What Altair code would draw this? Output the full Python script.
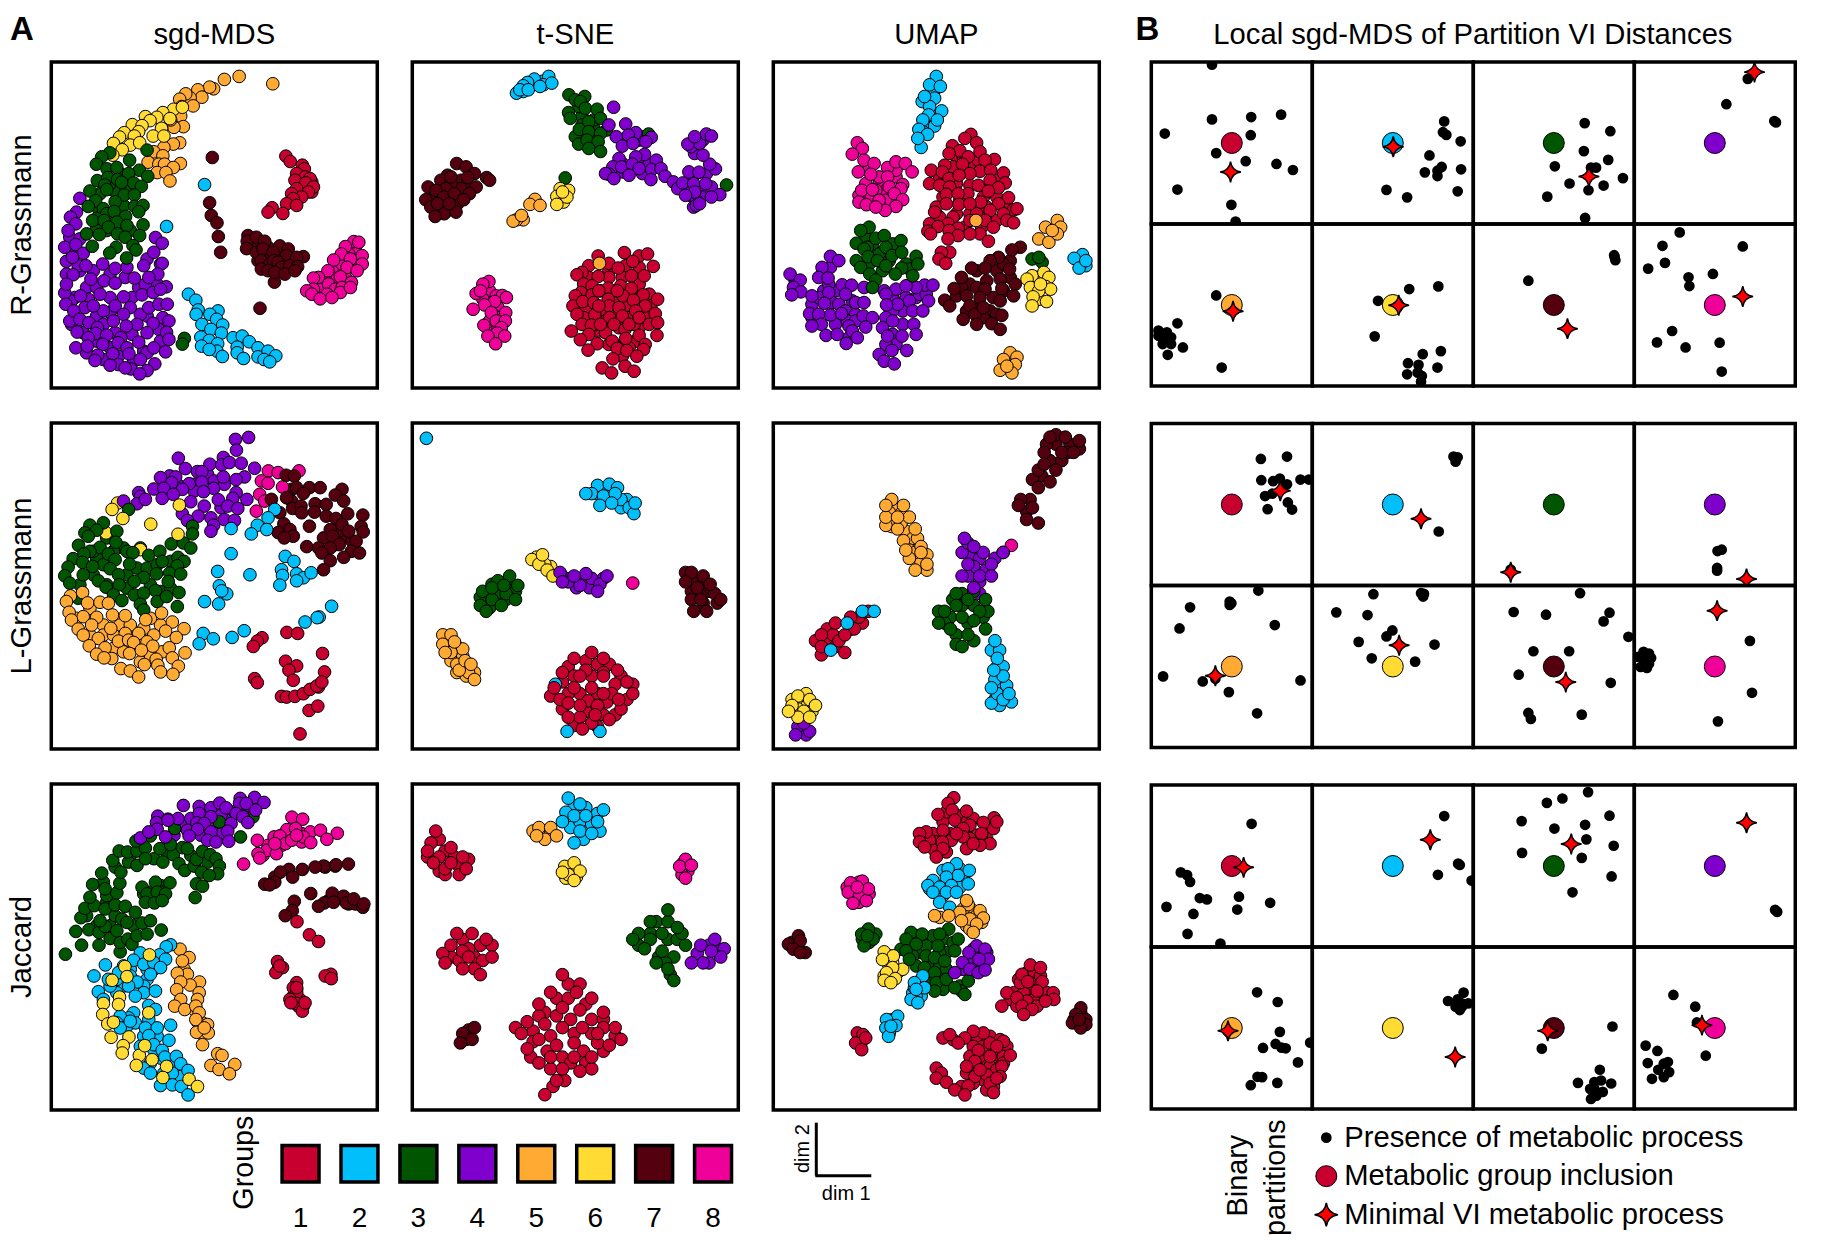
import altair as alt
import pandas as pd

GROUPS = [1, 2, 3, 4, 5, 6, 7, 8]
COLORS = ["#C8002F", "#00BFFA", "#005500", "#7F00CC", "#FFAA33", "#FFDB33", "#55000F", "#EE0099"]
FONT = "Liberation Sans"
ZX, ZY = [15, 985], [17, 990]

# ---- Panel A: values, per group, in figure units
RG_MDS = {
 5: [(574,60),(530,69),(674,82),(498,97),(486,92),(451,100),(463,122),(428,124),(415,112),(397,128),(437,148),(403,150),(400,178),(408,210),(380,212),(370,190),(397,258),(378,262),(350,272),(320,285),(347,297),(303,316),(335,322),(352,322),(399,320),(378,332),(330,347),(356,347),(368,372)],
 6: [(379,158),(405,152),(347,168),(329,182),(368,186),(295,180),(256,204),(309,192),(343,215),(285,207),(232,228),(318,238),(350,238),(275,225),(218,241),(262,238),(200,260),(250,265),(278,258),(226,279),(198,295)],
 4: [(100,424),(90,465),(72,480),(88,500),(65,520),(55,570),(88,562),(325,541),(345,558),(110,588),(320,585),(60,612),(345,618),(78,600),(118,625),(168,620),(290,625),(205,633),(240,630),(60,650),(80,652),(332,650),(133,665),(172,670),(205,677),(262,662),(305,660),(357,688),(55,706),(102,715),(160,710),(230,718),(285,712),(318,705),(340,695),(60,680),(58,740),(115,750),(82,760),(170,760),(140,745),(205,745),(250,750),(305,750),(335,740),(360,740),(230,770),(270,800),(347,780),(100,785),(127,795),(200,790),(152,810),(318,797),(238,805),(365,790),(92,823),(147,827),(180,832),(300,825),(358,824),(125,840),(222,840),(275,853),(365,845),(88,870),(122,865),(214,855),(240,870),(168,860),(320,870),(355,882),(153,892),(198,888),(145,908),(246,888),(280,905),(323,918),(214,920),(190,922),(252,933),(300,938),(278,948),(235,930)],
 3: [(189,288),(300,280),(165,300),(248,310),(149,322),(181,336),(210,332),(277,340),(245,350),(302,358),(152,371),(183,362),(212,368),(260,378),(224,376),(174,384),(283,388),(130,402),(180,398),(232,414),(262,414),(147,431),(205,434),(170,455),(125,448),(263,448),(288,445),(180,470),(202,463),(275,464),(150,484),(236,478),(138,490),(172,490),(210,495),(288,503),(240,505),(185,510),(120,530),(158,532),(212,530),(278,535),(235,540),(137,567),(208,570),(258,565),(267,578),(189,587),(239,602),(411,842),(405,859)],
 2: [(358,508),(471,383),(423,710),(445,728),(452,757),(446,770),(511,760),(487,770),(507,785),(463,800),(525,802),(490,815),(521,826),(460,838),(485,848),(556,840),(510,858),(462,865),(583,835),(604,852),(568,868),(508,880),(485,875),(630,870),(524,896),(568,885),(587,902),(630,897),(660,880),(683,894),(648,905),(665,912)],
 7: [(494,302),(486,437),(491,475),(508,497),(512,538),(519,585),(636,752),(679,674),(600,535),(598,552),(596,574),(625,540),(650,552),(625,585),(645,575),(695,566),(675,585),(720,575),(715,595),(765,598),(745,600),(640,610),(665,620),(677,610),(690,615),(700,630),(725,625),(748,628),(640,635),(660,640),(680,645),(710,650),(740,640)],
 1: [(713,298),(726,314),(762,325),(768,336),(745,350),(770,360),(785,365),(740,370),(772,378),(795,390),(745,395),(780,405),(730,410),(760,420),(735,425),(715,440),(745,445),(672,452),(660,465),(704,469)],
 8: [(915,553),(930,555),(890,568),(940,595),(878,590),(905,605),(855,608),(940,620),(895,630),(838,640),(925,640),(875,658),(810,660),(908,675),(840,680),(795,662),(795,695),(860,695),(880,690),(775,700),(835,710),(790,710),(875,705),(815,724),(850,720),(905,690)],
}
RG_MDS_FILL = {
 4: [(100,640),(140,640),(190,650),(235,660),(275,690),(120,690),(150,690),(190,720),(255,720),(85,720),(125,725),(150,775),(190,765),(300,775),(280,770),(75,800),(110,825),(170,800),(205,825),(255,830),(335,815),(150,850),(190,870),(290,880),(340,850),(120,885),(170,905),(215,895),(260,910),(300,885),(75,730),(70,790),(330,680),(340,620),(300,605),(295,680),(95,625),(70,540),(75,580),(100,545)],
 3: [(200,400),(160,410),(230,445),(155,455),(215,500),(180,520),(150,510),(250,520),(220,350),(190,380),(240,395)],
 7: [(620,560),(660,570),(690,590),(730,610),(660,600),(630,610),(700,600),(740,620)],
 8: [(920,580),(900,590),(860,630),(880,620),(850,660),(830,665),(815,695),(890,660),(920,610),(870,680)],
 1: [(760,350),(750,370),(790,375),(760,395),(745,415),(775,395),(790,405)],
}
RG_TSNE = {
 2: [(421,60),(378,68),(358,78),(345,88),(405,85),(430,80),(325,110),(335,100),(360,100),(395,90)],
 3: [(481,115),(528,120),(500,130),(515,135),(480,168),(485,185),(530,155),(565,158),(575,185),(540,195),(512,218),(593,220),(540,225),(575,230),(510,262),(535,250),(568,255),(540,275),(575,284),(470,363),(950,384),(718,232)],
 4: [(614,152),(650,202),(600,205),(680,228),(622,240),(658,235),(726,242),(710,255),(640,268),(672,260),(706,293),(630,305),(680,300),(741,310),(612,330),(638,330),(670,322),(690,335),(660,355),(600,352),(590,350),(615,365),(727,338),(755,335),(725,368),(767,358),(792,375),(805,395),(820,378),(852,380),(888,380),(838,345),(868,346),(917,336),(900,322),(930,413),(905,420),(855,405),(828,415),(852,450),(860,445),(870,440),(845,270),(870,260),(890,232),(880,295),(905,238),(835,262),(855,240)],
 7: [(147,320),(175,330),(200,350),(236,362),(245,370),(120,355),(100,370),(62,390),(130,380),(180,362),(115,395),(85,400),(205,390),(185,410),(55,428),(70,450),(108,420),(140,410),(168,428),(90,440),(110,470),(145,465),(83,478),(125,440),(130,360)],
 5: [(380,427),(365,442),(395,445),(345,488),(325,488),(315,492),(340,475)],
 6: [(455,395),(480,400),(445,418),(465,435),(445,442),(475,420),(462,405)],
 8: [(243,672),(225,680),(205,708),(218,700),(283,714),(295,720),(260,732),(230,742),(196,755),(293,765),(250,765),(265,790),(292,790),(228,803),(280,810),(268,826),(240,835),(290,835),(263,858)],
 1: [(568,596),(646,586),(690,596),(715,590),(671,612),(732,627),(600,618),(628,632),(520,645),(505,652),(568,657),(667,655),(705,655),(525,680),(550,685),(598,692),(635,685),(667,693),(517,705),(500,715),(550,712),(598,725),(642,715),(702,712),(745,725),(493,745),(522,732),(555,735),(600,745),(630,750),(673,728),(708,745),(505,770),(558,772),(602,780),(640,775),(680,760),(738,768),(520,800),(548,802),(590,825),(615,800),(648,815),(720,800),(745,795),(488,820),(540,830),(650,842),(690,833),(743,833),(515,846),(610,850),(565,858),(625,872),(708,860),(538,877),(653,878),(703,875),(683,895),(612,903),(648,925),(580,930),(608,945),(675,940),(660,800),(575,800),(570,745),(690,780),(625,700),(570,700)],
 50: [(572,618)],
}
RG_TSNE_FILL = {
 1: [(540,625),(600,640),(650,625),(690,630),(540,660),(600,660),(640,660),(690,680),(530,700),(575,700),(620,720),(660,710),(720,710),(510,730),(575,760),(650,745),(690,720),(725,745),(530,760),(620,780),(660,780),(710,770),(525,780),(570,820),(630,810),(690,810),(560,800),(600,860),(650,855),(680,850),(640,895),(660,870),(590,790),(675,800)],
 4: [(640,320),(700,320),(660,340),(720,320),(700,350),(620,345),(850,360),(880,400),(850,420),(830,400),(890,350),(905,390),(875,420),(860,430),(860,260),(880,250),(855,290),(650,250),(690,250),(700,240),(810,385),(640,345)],
 7: [(110,380),(145,395),(100,400),(80,420),(130,430),(150,440),(100,450),(120,460),(180,385),(160,370),(120,400),(75,430),(160,395)],
 3: [(520,180),(520,240),(555,215),(555,190),(520,205),(555,240),(510,150),(500,240)],
 8: [(245,700),(265,715),(250,745),(270,750),(260,775),(245,790),(255,815),(270,810),(225,725)],
 2: [(370,80),(385,80),(345,105),(400,75)],
}
RG_UMAP = {
 2: [(500,60),(480,85),(512,90),(495,125),(458,135),(516,163),(480,150),(477,175),(460,190),(495,208),(448,218),(474,233),(455,272),(445,245),(503,190),(465,120)],
 1: [(603,233),(585,245),(620,258),(548,267),(570,282),(630,285),(538,290),(595,300),(673,308),(645,310),(525,325),(578,322),(485,340),(518,345),(630,343),(600,350),(700,348),(662,340),(480,380),(538,365),(568,355),(660,370),(705,378),(510,385),(540,390),(625,385),(685,392),(655,402),(530,412),(594,410),(565,410),(715,422),(500,450),(530,440),(567,442),(632,435),(600,440),(685,440),(730,458),(495,465),(660,460),(700,470),(740,455),(480,500),(535,500),(505,508),(600,490),(645,490),(710,490),(730,497),(670,510),(475,522),(565,513),(538,520),(630,530),(600,530),(655,552),(565,535),(483,530),(535,545),(540,585),(515,585),(508,605),(528,618)],
 50: [(618,490)],
 8: [(265,258),(280,275),(250,292),(285,310),(315,320),(268,345),(305,352),(355,332),(380,315),(408,320),(428,345),(355,360),(400,383),(278,400),(310,398),(360,390),(395,395),(375,410),(270,435),(292,443),(330,430),(400,428),(380,448),(348,460),(320,450)],
 4: [(185,597),(210,610),(160,630),(65,650),(95,668),(150,660),(178,662),(75,690),(97,703),(220,682),(248,683),(70,712),(130,715),(180,705),(230,710),(285,690),(465,683),(490,683),(440,690),(380,695),(410,685),(350,710),(260,735),(167,737),(285,735),(385,740),(352,742),(477,730),(123,768),(185,772),(218,768),(150,770),(283,775),(310,780),(430,760),(460,760),(158,800),(130,805),(240,805),(290,808),(370,790),(340,810),(433,800),(172,833),(205,830),(250,820),(265,840),(355,835),(398,835),(440,830),(232,857),(412,878),(368,878),(330,890),(345,910),(375,918)],
 3: [(300,510),(275,520),(262,558),(320,543),(345,535),(395,550),(285,575),(350,570),(368,595),(397,585),(262,610),(297,598),(325,610),(350,625),(440,597),(445,620),(275,630),(302,650),(397,632),(378,650),(430,655),(320,668),(310,690),(785,605),(815,615),(805,600)],
 7: [(750,570),(725,578),(685,600),(660,610),(718,635),(645,632),(605,632),(575,660),(690,665),(735,680),(645,695),(695,693),(553,693),(525,728),(590,715),(630,720),(730,715),(540,745),(600,745),(690,730),(580,785),(615,770),(695,773),(620,800),(665,798),(690,815),(640,750)],
 6: [(785,655),(820,645),(770,665),(835,660),(825,687),(780,690),(840,695),(805,700),(788,718),(828,732),(785,745),(810,680)],
 5: [(860,490),(825,510),(870,510),(805,545),(835,555),(860,530),(845,520),(720,885),(740,898),(700,905),(735,920),(690,937),(725,945),(710,925)],
 20: [(935,592),(910,603),(945,625),(925,632),(945,610)],
}
RG_UMAP_FILL = {
 1: [(560,300),(600,320),(650,330),(680,370),(560,380),(600,385),(640,420),(680,420),(520,420),(560,470),(600,470),(640,460),(680,490),(510,480),(580,300),(625,310),(550,330),(510,365),(650,450),(700,440),(585,510),(635,510),(550,480),(620,470),(570,430)],
 4: [(130,740),(165,700),(200,700),(190,735),(150,720),(210,740),(250,730),(230,760),(260,770),(200,800),(235,790),(260,790),(130,780),(240,840),(370,720),(410,720),(440,720),(400,760),(370,760),(350,780),(400,800),(370,830),(380,860),(350,860),(420,730),(450,710),(470,710),(185,630),(180,680),(80,670),(345,700)],
 3: [(290,540),(310,565),(330,590),(370,560),(300,620),(340,640),(410,620),(420,635),(295,570),(360,610)],
 8: [(300,330),(290,380),(330,380),(350,400),(300,420),(350,430),(380,360),(380,340),(330,360),(320,400),(270,415)],
 7: [(620,640),(680,640),(720,660),(600,680),(650,670),(620,690),(670,720),(700,700),(620,750),(590,760),(660,760),(560,715),(640,780),(680,770),(575,690),(720,610),(700,620)],
 2: [(495,100),(490,180),(470,210),(460,225)],
 6: [(800,660),(805,725),(810,660),(795,680)],
}
LG_MDS = {
 1: [(755,945),(782,875),(808,862),(810,805),(828,760),(822,705),(712,728),(745,742),(722,755),(735,785),(620,780),(628,792),(642,658),(628,668),(616,684),(716,642),(748,645),(700,833),(715,835),(740,833),(765,825),(785,812),(805,802),(820,790)],
 8: [(661,160),(690,165),(752,160),(640,190),(660,197),(703,208),(635,230),(650,250),(625,280)],
 7: [(714,173),(738,175),(745,210),(783,210),(815,210),(880,215),(765,227),(860,232),(715,240),(670,245),(885,250),(800,258),(833,260),(733,272),(758,265),(798,283),(695,285),(897,288),(942,292),(760,285),(833,295),(862,302),(880,320),(707,318),(783,325),(937,326),(725,335),(845,335),(943,342),(690,344),(900,340),(735,355),(708,360),(825,360),(852,355),(922,370),(775,386),(872,380),(810,390),(845,390),(908,400),(932,405),(820,405),(885,418),(845,428),(825,455)],
 6: [(212,256),(178,345),(280,395)],
 4: [(602,60),(563,66),(566,98),(393,122),(527,120),(487,140),(522,142),(545,135),(580,137),(620,152),(414,153),(450,162),(463,162),(367,175),(340,180),(385,178),(527,178),(590,178),(565,186),(425,198),(463,193),(373,195),(405,215),(320,214),(350,212),(498,212),(468,222),(565,225),(275,225),(280,236),(345,242),(378,230),(230,250),(270,258),(295,245),(430,252),(512,246),(597,245),(555,242),(540,265),(570,272),(405,288),(452,295),(490,300),(530,305),(560,308),(420,308),(498,322),(490,340)],
 3: [(245,275),(170,315),(130,322),(435,325),(435,348),(210,340),(150,337),(115,345),(125,355),(372,378),(408,375),(430,390),(207,373),(96,382),(160,388),(130,400),(185,408),(240,400),(258,404),(305,412),(338,400),(392,418),(410,430),(80,422),(112,408),(205,425),(345,430),(108,433),(138,445),(248,438),(390,443),(65,447),(190,452),(55,473),(215,470),(290,478),(328,467),(367,465),(400,468),(110,470),(155,488),(70,495),(217,500),(262,490),(363,490),(178,507),(325,517),(395,523),(200,530),(262,530),(290,525),(225,547),(280,558),(330,550),(358,535),(390,565),(290,575),(95,540)],
 60: [(196,275),(228,302),(396,262),(311,319),(392,349)],
 5: [(108,523),(72,533),(60,550),(123,554),(160,552),(185,555),(68,582),(110,595),(150,597),(197,590),(75,605),(235,592),(343,584),(296,604),(375,611),(135,620),(410,631),(95,632),(192,630),(110,650),(235,645),(355,638),(275,645),(320,650),(387,657),(155,660),(215,668),(245,665),(300,670),(260,672),(128,682),(175,688),(317,683),(366,688),(413,703),(150,707),(195,720),(248,705),(283,695),(327,722),(375,718),(222,750),(250,757),(292,738),(332,740),(393,743),(275,775),(340,760),(377,767),(172,718)],
 2: [(550,332),(680,275),(660,300),(628,322),(656,335),(610,348),(550,407),(711,415),(737,430),(510,460),(606,470),(700,455),(745,467),(703,472),(765,479),(788,464),(745,488),(695,501),(515,503),(537,527),(522,518),(471,550),(513,557),(849,564),(812,596),(806,598),(770,611),(589,637),(467,645),(497,661),(553,657),(455,676)],
}
LG_MDS_FILL = {
 3: [(180,360),(230,390),(150,420),(140,400),(170,440),(240,470),(270,450),(300,450),(330,440),(370,430),(140,470),(180,500),(240,510),(310,500),(340,520),(370,510),(100,500),(200,400),(280,390)],
 5: [(130,570),(90,600),(170,620),(220,620),(290,630),(340,620),(130,650),(170,650),(200,690),(230,700),(280,730),(310,710),(345,700),(250,620),(310,600),(200,650)],
 4: [(480,170),(440,200),(500,190),(530,200),(520,270),(470,265),(440,220),(390,200)],
 7: [(730,215),(850,345),(890,355),(870,340),(840,360),(910,370),(860,380),(730,250),(710,340)],
}
LG_TSNE = {
 2: [(364,373),(510,413),(520,412),(527,415),(505,420),(515,422),(530,425),(537,432),(541,437),(525,420),(542,428),(500,420),(512,430),(522,428)],
 6: [(454,476),(460,480),(467,485),(472,490),(463,472)],
 4: [(478,487),(485,495),(495,498),(505,492),(512,497),(518,490),(500,488),(490,490),(480,495),(510,503)],
 8: [(540,496)],
 7: [(590,487),(600,490),(585,495),(595,500),(610,505),(615,510),(590,510),(603,520),(598,510),(606,497),(592,520)],
 3: [(425,494),(435,490),(412,503),(420,510),(432,505),(442,498),(428,515),(410,515),(440,510),(420,500),(415,520),(430,498)],
 5: [(385,540),(378,548),(395,552),(385,555),(390,565),(400,572),(405,578),(392,570),(380,555),(397,562),(388,546),(402,565)],
 20: [(474,582),(484,622),(512,622)],
 1: [(505,555),(490,560),(515,560),(527,570),(480,572),(500,570),(515,575),(535,580),(473,585),(490,585),(505,585),(522,590),(540,590),(478,595),(495,600),(510,600),(530,603),(485,610),(505,615),(520,612),(497,620),(515,590),(495,575),(528,595),(485,598),(508,608)],
}
LG_TSNE_FILL = {
 2: [(510,420),(525,425),(518,415),(530,432),(535,425)],
 6: [(458,474),(470,482),(465,480)],
 4: [(487,492),(497,492),(507,495),(515,492),(480,490),(492,500),(503,500)],
 7: [(587,490),(592,493),(600,497),(605,503),(597,505),(590,503),(600,513),(612,513),(585,487)],
 3: [(420,497),(427,500),(435,497),(415,510),(425,507),(435,503),(418,517),(410,508),(440,503),(432,510)],
 5: [(383,545),(390,550),(385,562),(395,558),(390,572),(400,568),(378,540),(398,575),(405,572)],
 1: [(500,562),(510,565),(485,567),(520,565),(530,575),(490,575),(505,575),(480,580),(495,590),(510,590),(525,582),(535,595),(485,590),(500,605),(515,608),(525,608),(490,617),(510,618),(480,603),(470,592),(540,582),(502,596),(518,597),(495,610),(515,572)],
}
LG_UMAP = {
 7: [(895,372),(908,372),(920,375),(890,385),(905,385),(885,400),(895,410),(900,400),(885,415),(915,385),(890,395),(870,425),(880,432),(875,442),(885,445),(868,430)],
 5: [(760,425),(770,430),(755,440),(775,440),(765,450),(780,450),(770,460),(785,465),(775,475),(790,480),(780,485),(765,440),(785,470),(755,430),(772,468)],
 8: [(862,464),(855,470)],
 4: [(822,458),(830,465),(825,480),(845,480),(855,470),(835,490),(820,490),(830,500),(845,490),(680,618),(690,622),(678,625),(685,615)],
 3: [(815,505),(825,510),(805,520),(820,525),(835,520),(810,535),(825,540),(840,535),(820,550),(800,530),(830,528),(815,515)],
 2: [(848,545),(850,560),(855,575),(850,590),(855,595),(860,590),(847,570),(845,585)],
 1: [(740,520),(725,525),(712,530),(700,540),(715,545),(728,535),(700,550),(720,540)],
 20: [(735,520),(745,520),(708,553),(722,530)],
 6: [(680,592),(690,595),(675,600),(685,605),(695,600),(680,610),(690,610),(672,605)],
}
LG_UMAP_FILL = {
 7: [(900,378),(912,378),(895,392),(905,392),(888,405),(880,408),(875,435),(878,425),(892,378),(920,382),(900,370),(910,385)],
 5: [(762,432),(768,437),(760,448),(772,452),(768,445),(778,458),(782,458),(775,468),(785,478),(790,472),(755,447),(780,470),(790,485),(758,436)],
 4: [(827,472),(835,475),(840,485),(830,482),(825,490),(835,495),(820,470),(838,470),(848,475),(825,462),(835,505),(683,620),(687,625)],
 3: [(812,510),(820,505),(830,515),(810,525),(825,530),(815,540),(830,545),(838,525),(805,530),(842,520),(820,515),(815,548),(800,520),(830,503),(840,510)],
 2: [(845,553),(852,553),(850,567),(852,583),(858,583),(848,595),(862,597),(852,600),(848,578),(855,567),(845,598)],
 1: [(735,530),(725,535),(705,545),(712,550),(732,525),(705,535),(695,545),(710,540),(720,555),(700,557)],
 6: [(683,597),(688,600),(680,603),(692,605),(675,595),(687,590)],
}
JC_MDS = {
 3: [(57,525),(105,498),(88,457),(157,498),(220,518),(190,478),(220,490),(243,480),(255,495),(127,452),(157,460),(270,470),(300,465),(342,453),(103,416),(115,388),(143,380),(175,390),(205,378),(235,382),(265,400),(225,420),(175,442),(160,425),(240,430),(285,432),(310,425),(210,455),(130,355),(180,350),(210,342),(138,317),(175,330),(219,313),(165,283),(205,265),(222,280),(198,245),(245,250),(270,260),(217,217),(242,220),(270,217),(295,208),(267,187),(295,240),(310,172),(338,210),(347,250),(378,228),(370,198),(382,150),(405,207),(395,255),(420,210),(412,275),(440,262),(447,242),(465,218),(488,228),(505,240),(515,262),(462,280),(510,285),(485,290),(447,315),(465,322),(443,356),(578,175),(515,130),(615,115),(285,325),(325,310),(368,312),(300,345),(330,340),(355,345),(295,370),(322,372),(345,365)],
 4: [(408,81),(577,60),(620,57),(648,72),(575,75),(595,75),(455,84),(490,88),(516,74),(535,88),(332,113),(362,122),(392,120),(455,105),(490,115),(565,105),(623,95),(585,115),(328,132),(362,125),(448,133),(470,135),(550,135),(600,132),(330,152),(280,178),(305,160),(355,175),(420,155),(450,152),(490,160),(425,172),(540,158),(480,185),(505,190),(543,188)],
 8: [(731,116),(763,122),(716,153),(742,150),(786,160),(816,155),(866,164),(628,185),(678,175),(695,172),(765,175),(787,192),(835,182),(712,195),(657,215),(630,225),(685,225),(635,238),(587,256),(730,185),(680,195),(745,170)],
 7: [(899,256),(862,258),(825,262),(800,265),(762,272),(722,272),(697,280),(733,295),(680,310),(650,316),(665,318),(787,344),(851,343),(885,352),(827,372),(810,382),(855,370),(893,372),(915,360),(942,385),(945,375),(738,367),(732,395),(711,410)],
 1: [(746,428),(783,467),(810,487),(688,547),(703,565),(683,580),(695,560),(847,585),(830,590),(848,598),(745,610),(735,625),(745,640),(725,660),(745,672),(762,695),(770,670),(728,670),(745,625)],
 5: [(398,510),(425,535),(405,545),(420,585),(390,582),(456,608),(428,617),(400,608),(388,631),(455,640),(400,660),(382,680),(412,690),(450,660),(445,680),(455,700),(450,727),(480,735),(482,760),(447,758),(465,795),(510,822),(523,827),(490,857),(561,854),(514,869),(545,882),(445,720),(470,745)],
 2: [(370,497),(357,503),(280,521),(337,527),(260,543),(290,555),(320,550),(355,540),(176,557),(215,580),(340,565),(142,590),(310,585),(270,608),(185,600),(245,620),(155,637),(290,640),(325,635),(265,650),(170,660),(305,678),(325,690),(245,715),(220,710),(210,730),(305,720),(370,737),(265,730),(295,745),(330,745),(305,768),(365,782),(220,745),(320,795),(280,800),(345,812),(353,832),(387,830),(400,852),(290,865),(310,880),(422,872),(375,880),(340,917),(375,915),(402,920),(422,945),(250,725)],
 6: [(307,527),(234,562),(240,592),(196,603),(218,653),(170,672),(215,675),(168,705),(183,733),(200,728),(193,773),(246,772),(229,798),(226,820),(277,827),(293,798),(268,857),(315,840),(358,860),(347,893),(425,898),(450,920),(305,700)],
}
JC_MDS_FILL = {
 3: [(150,440),(120,410),(190,440),(260,440),(205,410),(180,370),(170,310),(250,230),(320,240),(360,225),(430,230),(480,250),(310,340),(340,320),(320,355),(290,345),(345,340)],
 2: [(230,620),(210,600),(250,570),(300,600),(300,570),(210,640),(250,590),(230,560),(290,620),(320,570),(260,700),(240,740),(290,770),(330,770),(340,835),(380,850),(350,880),(400,890),(320,810),(310,850),(190,620)],
 4: [(500,130),(430,120),(540,120),(560,100),(600,100),(400,140),(470,110),(520,110),(520,165),(380,170),(460,170),(600,80)],
 8: [(700,170),(720,180),(760,165),(660,200),(645,230),(700,200),(760,190)],
 7: [(830,265),(860,262),(880,355),(900,375),(920,375),(840,365),(680,295)],
 5: [(410,570),(440,690),(465,730),(475,745),(460,760)],
 1: [(745,630),(735,650),(755,660),(740,650),(750,680),(765,680),(845,595),(690,570)],
}
JC_TSNE = {
 2: [(485,680),(495,685),(490,695),(500,695),(480,700),(510,700),(495,708),(505,710),(490,718),(515,690)],
 5: [(460,705),(470,705),(465,715),(475,712),(458,712)],
 6: [(482,738),(490,735),(495,742),(485,745),(490,750),(480,743)],
 1: [(372,708),(365,725),(375,730),(385,722),(395,730),(380,740),(392,745),(370,735),(398,740),(385,735),(390,795),(403,795),(415,800),(395,810),(380,820),(400,815),(420,815),(395,825),(410,830),(385,805),(480,830),(470,845),(492,845),(505,850),(460,855),(480,858),(495,860),(515,862),(450,870),(465,872),(480,875),(497,875),(515,875),(525,875),(445,880),(460,885),(475,890),(490,888),(510,888),(520,890),(450,893),(470,900),(490,900),(505,900),(460,905),(480,910),(495,912),(475,920),(465,932),(510,880)],
 8: [(585,732),(580,738),(590,737),(585,748)],
 7: [(405,875),(395,880),(403,885),(393,888)],
 3: [(570,775),(555,785),(545,795),(565,795),(578,790),(550,808),(565,810),(585,805),(570,825),(575,835),(560,820),(540,800)],
 4: [(610,800),(598,805),(615,815),(600,820),(590,820),(607,810)],
}
JC_TSNE_FILL = {
 2: [(490,688),(500,688),(487,705),(500,703),(510,693),(495,700),(505,702),(483,692),(512,708),(498,715)],
 5: [(463,710),(470,710),(455,708)],
 6: [(487,740),(492,747),(483,748),(488,742)],
 1: [(375,715),(380,725),(390,735),(368,718),(375,742),(388,730),(380,745),(365,730),(392,738),(400,732),(395,800),(410,805),(405,815),(385,815),(400,808),(392,818),(412,818),(405,825),(378,812),(420,805),(485,838),(475,850),(500,855),(465,862),(487,868),(505,868),(455,878),(470,882),(505,880),(525,882),(455,887),(467,895),(480,900),(498,895),(515,895),(453,900),(470,910),(487,905),(500,905),(482,920),(515,868),(475,865),(490,880),(440,875),(460,865),(530,885),(472,925),(505,910),(485,850),(495,838)],
 7: [(400,877),(398,885)],
 3: [(560,785),(570,785),(555,795),(570,800),(555,800),(575,815),(562,815),(578,800),(568,820),(582,795),(545,805),(572,830)],
 4: [(605,805),(612,808),(595,812),(605,820),(618,808)],
 8: [(583,735),(587,742),(582,745)],
}
JC_UMAP = {
 1: [(552,58),(535,75),(547,95),(505,108),(590,98),(672,118),(555,125),(600,140),(640,132),(680,130),(520,155),(470,160),(450,165),(580,150),(635,165),(518,190),(580,175),(450,190),(465,205),(520,210),(660,195),(590,210),(630,200),(500,235),(610,195),(560,165),(282,765),(260,790),(278,810),(290,775),(780,557),(810,565),(755,585),(772,607),(815,607),(710,640),(800,635),(740,655),(848,640),(850,660),(695,680),(825,665),(755,680),(785,690),(760,705),(640,760),(610,755),(540,765),(585,775),(565,790),(700,785),(625,812),(680,800),(720,827),(660,830),(615,845),(695,860),(590,860),(650,885),(615,890),(690,890),(500,865),(515,880),(500,895),(530,907),(660,910),(680,895),(595,918),(555,930),(585,945),(670,938),(630,870)],
 2: [(560,255),(535,270),(598,275),(565,290),(490,305),(530,295),(595,315),(475,320),(510,325),(545,320),(490,340),(530,340),(560,340),(510,370),(540,385),(385,710),(352,720),(380,738),(350,745),(358,770),(365,740)],
 5: [(595,377),(570,400),(495,410),(537,410),(630,395),(600,420),(640,417),(620,435),(575,425),(610,460),(590,365)],
 8: [(280,307),(245,312),(238,340),(272,350),(292,365),(252,373),(298,330),(265,325)],
 7: [(90,470),(60,495),(95,485),(110,520),(75,510),(95,520),(930,685),(915,705),(905,730),(945,735),(930,745),(925,720)],
 6: [(345,518),(372,530),(340,541),(400,570),(370,565),(352,580),(378,598),(345,603),(365,610)],
 3: [(298,450),(278,465),(312,480),(285,500),(295,470),(425,460),(458,465),(537,450),(410,480),(510,465),(565,480),(440,495),(505,500),(555,515),(410,515),(470,530),(495,535),(420,540),(525,545),(465,565),(495,580),(500,610),(530,600),(555,625),(595,605),(585,645),(495,635)],
 4: [(620,500),(645,510),(597,520),(655,540),(578,550),(627,540),(555,580),(600,570),(625,580),(645,572)],
 20: [(460,590),(435,610),(465,625),(425,660),(445,670),(440,630)],
}
JC_UMAP_FILL = {
 1: [(520,130),(575,125),(610,120),(650,150),(540,165),(490,165),(620,170),(600,180),(500,190),(480,185),(545,185),(650,180),(560,110),(530,100),(670,150),(640,190),(530,220),(495,215),(770,580),(790,600),(780,630),(730,640),(820,640),(760,640),(720,660),(790,660),(830,640),(770,665),(800,680),(740,680),(745,600),(790,575),(750,610),(810,590),(620,780),(660,770),(690,780),(640,800),(670,830),(710,800),(640,850),(670,860),(630,830),(650,810),(700,830),(610,800),(600,830),(600,870),(620,870),(660,860),(680,870),(640,900),(670,920),(610,910),(575,920),(550,780),(520,775),(510,890),(660,790),(700,850),(650,930),(590,880),(620,860),(270,785),(270,770),(275,795),(265,760)],
 2: [(520,275),(570,270),(540,300),(500,320),(550,310),(580,300),(520,350),(570,325),(480,330),(555,265),(370,720),(365,725),(360,760),(450,605),(445,640),(430,640),(455,650),(440,650),(435,625)],
 5: [(590,400),(610,395),(620,410),(590,440),(600,450),(510,415),(580,390),(635,430)],
 8: [(260,340),(280,350),(255,330),(285,340),(270,370),(235,325),(300,345),(270,310)],
 3: [(300,465),(280,480),(300,490),(320,465),(440,470),(480,490),(520,480),(450,520),(490,470),(530,520),(430,530),(550,490),(470,500),(510,520),(480,550),(510,560),(530,570),(440,560),(500,590),(520,630),(570,620),(575,635),(395,510),(490,610),(470,580)],
 4: [(610,520),(640,530),(600,550),(625,560),(580,570),(650,520),(610,510)],
 7: [(70,490),(85,500),(90,510),(920,720),(930,725),(910,720),(930,700),(945,720),(930,730)],
 6: [(360,530),(355,550),(370,550),(385,580),(360,600),(380,575),(345,590)],
}

# ---- Panel B: black dots and the star per sub-panel, row by row
XL = [18, 400, 782, 1165, 1548]
YL = [22, 502, 985]
B_ROWS = [
 [
  ([(162,30),(162,192),(255,185),(326,178),(50,234),(254,239),(172,292),(242,316),(315,324),(354,342),(80,400),(208,445),(218,495)], (206,348)),
  ([(713,198),(710,230),(718,238),(752,257),(678,299),(707,333),(697,344),(667,349),(753,340),(697,360),(576,401),(625,423),(745,405)], (592,273)),
  ([(1047,203),(1108,227),(1045,286),(1103,312),(976,331),(1062,335),(1074,335),(1138,366),(1011,382),(1092,388),(1056,402),(958,421),(1048,484)], (1057,361)),
  ([(1435,72),(1384,147),(1498,197),(1502,201)], (1451,52)),
  ([(172,715),(80,798),(35,820),(35,835),(55,825),(45,845),(65,840),(45,860),(65,860),(93,870),(57,892),(185,930)], (212,762)),
  ([(630,696),(699,688),(556,731),(548,837),(662,890),(705,881),(627,917),(652,922),(697,930),(625,950),(650,945),(660,955),(658,972)], (605,744)),
  ([(1117,595),(1118,600),(1120,610),(913,671)], (1006,814)),
  ([(1273,527),(1232,567),(1423,569),(1238,618),(1198,635),(1294,661),(1352,651),(1296,687),(1255,821),(1219,855),(1287,870),(1368,856),(1373,942)], (1423,718)),
 ],
 [
  ([(278,127),(340,120),(279,190),(307,193),(323,185),(340,202),(372,188),(392,188),(288,237),(305,230),(342,256),(294,276),(352,277)], (324,221)),
  ([(735,120),(745,122),(740,135),(700,342)], (658,304)),
  ([(871,455)], (871,463)),
  ([(1373,396),(1363,400),(1362,450),(1362,458)], (1432,483)),
  ([(272,517),(110,567),(204,550),(208,555),(204,560),(85,630),(311,620),(46,773),(140,788),(170,780),(372,785),(202,820),(269,883)], (170,771)),
  ([(545,528),(658,525),(665,527),(663,535),(457,582),(531,590),(590,636),(576,654),(510,670),(690,678),(541,719),(644,729)], (606,680)),
  ([(1036,525),(878,581),(955,589),(1106,583),(1092,609),(1151,655),(925,698),(1010,698),(890,768),(1109,792),(913,882),(919,900),(1040,887)], (1002,790)),
  ([(1187,700),(1200,705),(1205,718),(1185,720),(1200,735),(1180,745),(1195,748),(1175,715),(1440,667),(1445,822),(1364,907)], (1362,577)),
 ],
 [
  ([(256,137),(88,281),(103,289),(110,309),(133,357),(150,361),(226,353),(300,371),(54,383),(222,391),(118,404),(104,463),(182,492)], (237,266)),
  ([(713,114),(746,255),(750,259),(698,288),(778,305)], (680,184)),
  ([(1055,43),(994,62),(957,75),(1106,113),(897,129),(1048,140),(975,151),(1051,183),(1116,202),(898,223),(1040,238),(1111,293),(1018,340)], (1015,197)),
  ([(1500,392),(1505,398)], (1432,134)),
  ([(269,637),(318,666),(323,755),(313,791),(327,802),(337,804),(283,803),(395,787),(366,846),(270,889),(281,890),(254,914),(317,907)], (200,752)),
  ([(759,638),(722,663),(745,658),(740,680),(755,670),(770,670),(750,690),(755,680)], (739,830)),
  ([(1113,739),(945,805),(1083,868),(1031,907),(1110,909),(1070,905),(1086,900),(1060,925),(1090,934),(1075,945),(1062,955),(1070,925)], (959,752)),
  ([(1258,645),(1310,680),(1314,727),(1192,796),(1220,812),(1335,826),(1197,848),(1245,845),(1235,850),(1222,868),(1248,875),(1235,890),(1207,895)], (1326,735)),
 ],
]

COLUMN_TITLES = ["sgd-MDS", "t-SNE", "UMAP"]
ROW_TITLES = ["R-Grassmann", "L-Grassmann", "Jaccard"]
B_TITLE = "Local sgd-MDS of Partition VI Distances"
LEGEND_LABELS = ["Presence of metabolic process", "Metabolic group inclusion", "Minimal VI metabolic process"]

W, H = 326, 326
SW, SH = 161, 162
STAR = "M0,-1 Q0.12,-0.12 1,0 Q0.12,0.12 0,1 Q-0.12,0.12 -1,0 Q-0.12,-0.12 0,-1 Z"
FRAME = alt.ViewBackground(stroke="black", strokeWidth=3.5)
NOFRAME = alt.ViewBackground(stroke=None)
color_scale = alt.Scale(domain=GROUPS, range=COLORS)
LX, LY = 0, -1.75


def label(text, x, y, size=29.2, angle=0, weight="normal", align="center"):
    return alt.Chart(pd.DataFrame({"t": [text]})).mark_text(
        font=FONT, fontSize=size, angle=angle, fontWeight=weight, align=align,
        baseline="middle", color="black",
    ).encode(x=alt.value(x), y=alt.value(y), text="t:N")


def panel(groups, fill, xdom, ydom, extras=()):
    rows = []
    for part in (fill, groups):
        for g, pts in part.items():
            g = g if g <= 8 else (g // 10)
            rows += [{"x": p[0], "y": p[1], "g": g} for p in pts]
    pts = alt.Chart(pd.DataFrame(rows)).mark_circle(
        size=160, stroke="black", strokeWidth=1, opacity=1, clip=True
    ).encode(
        x=alt.X("x:Q", axis=None, scale=alt.Scale(domain=xdom, nice=False, zero=False)),
        y=alt.Y("y:Q", axis=None, scale=alt.Scale(domain=ydom, nice=False, zero=False)),
        color=alt.Color("g:N", scale=color_scale, legend=None),
    )
    return alt.layer(pts, *extras).properties(width=W, height=H, view=FRAME)


def shr(x0, y0):
    return [x0, x0 + 278], [y0 + 277, y0]


ZYR = [ZY[1], ZY[0]]
cells_a = [
    panel(RG_MDS, RG_MDS_FILL, ZX, ZYR, [label(COLUMN_TITLES[0], W / 2, -27),
                                         label(ROW_TITLES[0], -29.4, H / 2, angle=270),
                                         label("A", -29.4, -31.6, size=33, weight="bold")]),
    panel(RG_TSNE, RG_TSNE_FILL, ZX, ZYR, [label(COLUMN_TITLES[1], W / 2, -27)]),
    panel(RG_UMAP, RG_UMAP_FILL, ZX, ZYR, [label(COLUMN_TITLES[2], W / 2, -27)]),
    panel(LG_MDS, LG_MDS_FILL, ZX, ZYR, [label(ROW_TITLES[1], -29.4, H / 2, angle=270)]),
    panel(LG_TSNE, LG_TSNE_FILL, *shr(352, 360)),
    panel(LG_UMAP, LG_UMAP_FILL, *shr(659, 360)),
    panel(JC_MDS, JC_MDS_FILL, ZX, ZYR, [label(ROW_TITLES[2], -29.4, H / 2, angle=270)]),
    panel(JC_TSNE, JC_TSNE_FILL, *shr(352, 668)),
    panel(JC_UMAP, JC_UMAP_FILL, ZX, ZYR),
]
grid_a = alt.concat(*cells_a, columns=3, spacing={"row": 35, "column": 35}, bounds="flush")


def sub_panel(dots, star, i, j, g, extras=()):
    xd = [XL[i], XL[i + 1]]
    yd = [YL[j + 1], YL[j]]
    x = alt.X("x:Q", axis=None, scale=alt.Scale(domain=xd, nice=False, zero=False))
    y = alt.Y("y:Q", axis=None, scale=alt.Scale(domain=yd, nice=False, zero=False))
    df = pd.DataFrame({"x": [p[0] for p in dots], "y": [p[1] for p in dots]})
    dot_layer = alt.Chart(df).mark_circle(size=115, color="black", opacity=1, clip=True).encode(x=x, y=y)
    centre = alt.Chart(pd.DataFrame({"x": [(xd[0] + xd[1]) / 2], "y": [(yd[0] + yd[1]) / 2], "g": [g]})).mark_circle(
        size=440, stroke="black", strokeWidth=1, opacity=1, clip=True
    ).encode(x=x, y=y, color=alt.Color("g:N", scale=color_scale, legend=None))
    st = alt.Chart(pd.DataFrame({"x": [star[0]], "y": [star[1]]})).mark_point(
        shape=STAR, size=430, fill="#FF0000", filled=True, stroke="black", strokeWidth=1.5, opacity=1, clip=True
    ).encode(x=x, y=y)
    return alt.layer(centre, dot_layer, st, *extras).properties(width=SW, height=SH, view=FRAME)


# an unseen rule keeps the left edge of every row of panel B level
edge = alt.Chart(pd.DataFrame({"a": [0]})).mark_rule(opacity=0).encode(x=alt.value(-20), y=alt.value(0), y2=alt.value(10))

b_rows = []
for r, row in enumerate(B_ROWS):
    cells = []
    for k, (dots, star) in enumerate(row):
        i, j = k % 4, k // 4
        extras = []
        if k == 0:
            extras = [edge]
            if r == 0:
                extras += [label(B_TITLE, 321.6, -27), label("B", -3.8, -31.6, size=33, weight="bold")]
        cells.append(sub_panel(dots, star, i, j, GROUPS[k], extras))
    b_rows.append(alt.concat(*cells, columns=4, spacing=0, bounds="flush"))
grid_b = alt.vconcat(*b_rows, spacing=33.5)

top = alt.hconcat(grid_a, grid_b, spacing=28)

# ---- Legends
spacer = alt.Chart(pd.DataFrame({"t": [""]})).mark_text().encode(text="t:N").properties(width=228.7, height=36.5, view=NOFRAME)
swatches = alt.layer(
    alt.Chart(pd.DataFrame({"g": GROUPS})).mark_bar(stroke="black", strokeWidth=3.5, opacity=1).encode(
        x=alt.X("g:O", scale=alt.Scale(paddingInner=0.373, paddingOuter=0.03),
                axis=alt.Axis(title=None, ticks=False, domain=False, labelAngle=0, labelFont=FONT,
                              labelFontSize=28, labelPadding=22.75, labelColor="black")),
        color=alt.Color("g:N", scale=color_scale, legend=None),
    ),
    label("Groups", -36, 19 + LY, size=28.7, angle=270),
).properties(width=453, height=36.5, view=NOFRAME)

legend_df = pd.DataFrame({"label": LEGEND_LABELS, "kind": [0, 1, 2]})
ly = alt.Y("kind:O", axis=None, scale=alt.Scale(type="point", padding=0, domain=[0, 1, 2], range=[-6 + LY, 71 + LY]))
legend_rest = alt.layer(
    alt.Chart(pd.DataFrame({"a": [0]})).mark_rule(color="black", strokeWidth=3).encode(
        x=alt.value(83 + LX), y=alt.value(-21 + LY), y2=alt.value(32 + LY)),
    alt.Chart(pd.DataFrame({"a": [0]})).mark_rule(color="black", strokeWidth=3).encode(
        x=alt.value(82 + LX), x2=alt.value(138 + LX), y=alt.value(32 + LY)),
    label("dim 2", 70 + LX, 5 + LY, size=20, angle=270),
    label("dim 1", 113 + LX, 50 + LY, size=20),
    label("Binary", 505 + LX, 32 + LY, size=28.8, angle=270),
    label("partitions", 543 + LX, 34 + LY, size=28.8, angle=270),
    alt.Chart(legend_df[legend_df.kind == 0]).mark_circle(size=115, color="black", opacity=1).encode(
        x=alt.value(593 + LX), y=ly),
    alt.Chart(pd.DataFrame({"kind": [1], "g": [1]})).mark_circle(size=440, stroke="black", strokeWidth=1, opacity=1).encode(
        x=alt.value(593 + LX), y=ly, color=alt.Color("g:N", scale=color_scale, legend=None)),
    alt.Chart(legend_df[legend_df.kind == 2]).mark_point(
        shape=STAR, size=550, fill="#FF0000", filled=True, stroke="black", strokeWidth=1.5, opacity=1
    ).encode(x=alt.value(593 + LX), y=ly),
    alt.Chart(legend_df).mark_text(font=FONT, fontSize=29.2, align="left", baseline="middle", color="black").encode(
        x=alt.value(611 + LX), y=ly, text="label:N"),
).properties(width=1000, height=36.5, view=NOFRAME)

bottom = alt.hconcat(spacer, swatches, legend_rest, spacing=0, bounds="flush")
chart = alt.vconcat(top, bottom, spacing=3.4).properties(
    padding={"left": -2.7, "top": 4, "right": 0, "bottom": 0}
).configure_view(continuousWidth=W, continuousHeight=H).configure(background="white")

chart.save("out.html", embed_options={"renderer": "svg", "actions": False})
